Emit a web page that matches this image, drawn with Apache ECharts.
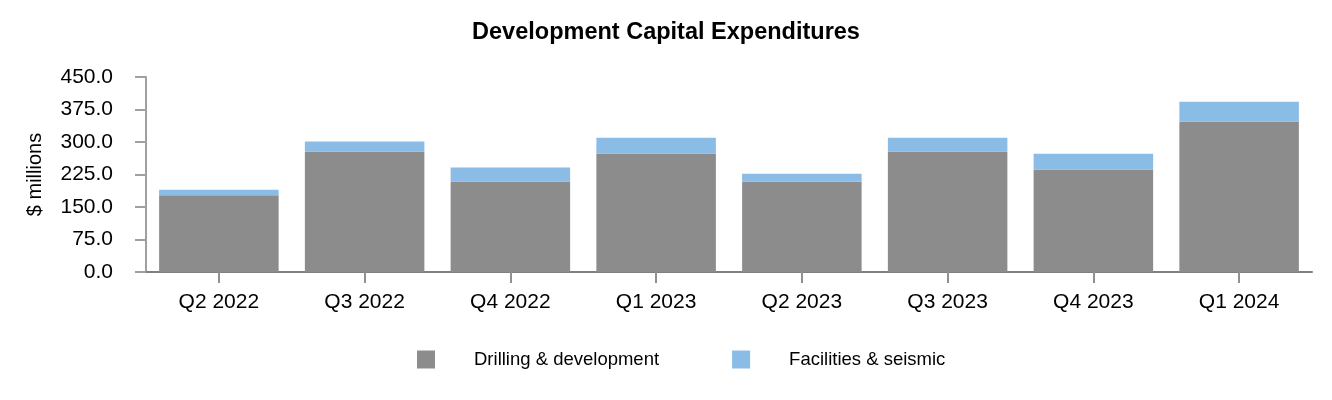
<!DOCTYPE html>
<html><head><meta charset="utf-8">
<script src="https://cdn.jsdelivr.net/npm/echarts@6/dist/echarts.min.js"></script>
<style>html,body{margin:0;padding:0;background:#fff}#c{width:1332px;height:400px}</style>
</head><body><div id="c"></div>
<script>
const categories = ['Q2 2022','Q3 2022','Q4 2022','Q1 2023','Q2 2023','Q3 2023','Q4 2023','Q1 2024'];
const drilling = [177, 278, 208, 273, 208, 278, 236, 347];
const facilities = [13, 23, 33, 37, 19, 32, 37, 46];
const seriesNames = ['Drilling & development', 'Facilities & seismic'];
const yTicks = {min: 0, max: 450, interval: 75};

const chart = echarts.init(document.getElementById('c'));
const font = 'Liberation Sans, Arial, sans-serif';
chart.setOption({
  animation: false,
  title: {text: 'Development Capital Expenditures', left: 'center', top: 16,
    textStyle: {fontFamily: font, fontSize: 23.5, fontWeight: 'bold', color: '#000'}},
  grid: {left: 146, right: 20, top: 77, bottom: 128},
  legend: {
    top: 350, left: 417, padding: 0, itemWidth: 18, itemHeight: 18, itemGap: 73, icon: 'rect',
    textStyle: {fontFamily: font, fontSize: 18.5, color: '#000', padding: [0, 0, 0, 34]},
    data: seriesNames
  },
  xAxis: {
    type: 'category', data: categories,
    axisLine: {lineStyle: {color: '#808080', width: 2}},
    axisTick: {show: true, alignWithLabel: true, length: 11, lineStyle: {color: '#909090', width: 2}},
    axisLabel: {fontFamily: font, fontSize: 21, color: '#000', margin: 20}
  },
  yAxis: {
    type: 'value', min: yTicks.min, max: yTicks.max, interval: yTicks.interval,
    name: '$ millions', nameLocation: 'middle', nameGap: 101, nameRotate: 90,
    nameTextStyle: {fontFamily: font, fontSize: 20, color: '#000'},
    axisLine: {show: true, lineStyle: {color: '#a0a0a0', width: 2}},
    axisTick: {show: true, length: 11, lineStyle: {color: '#a0a0a0', width: 2}},
    splitLine: {show: false},
    axisLabel: {fontFamily: font, fontSize: 21, color: '#000', margin: 33, padding: [6, 0, 0, 0],
      formatter: v => v.toFixed(1)}
  },
  series: [
    {name: seriesNames[0], type: 'bar', stack: 'a', data: drilling, barCategoryGap: '18%',
      itemStyle: {color: '#8c8c8c'}},
    {name: seriesNames[1], type: 'bar', stack: 'a', data: facilities,
      itemStyle: {color: '#8abce6'}}
  ]
});
</script></body></html>
